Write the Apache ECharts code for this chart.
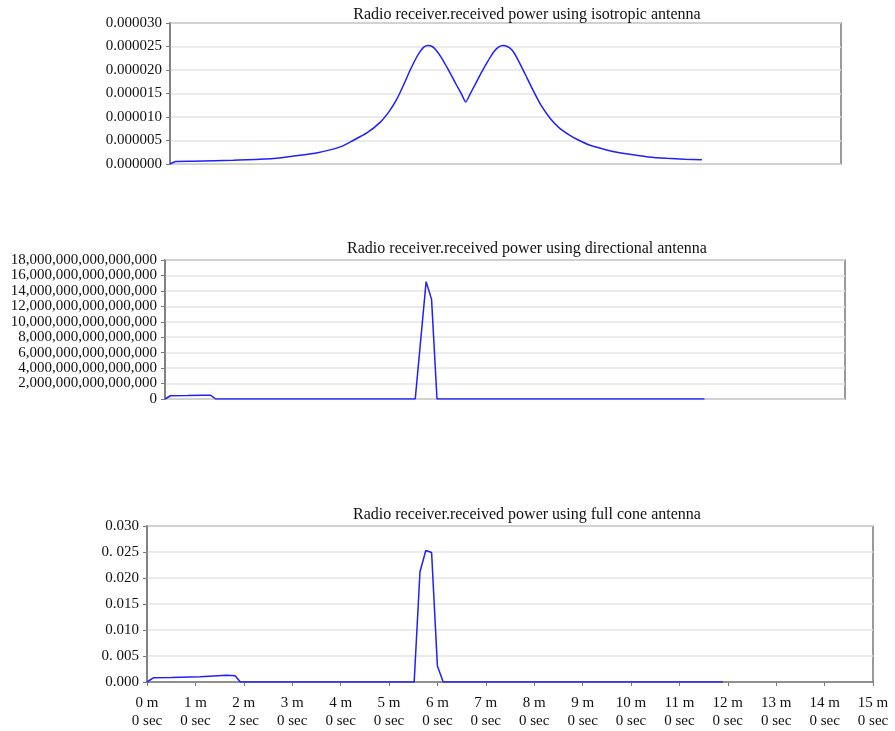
<!DOCTYPE html>
<html>
<head>
<meta charset="utf-8">
<script src="https://cdn.jsdelivr.net/npm/echarts@6/dist/echarts.min.js"></script>
<style>
html,body{margin:0;padding:0;background:#fff;}
#c{width:895px;height:731px;}
</style>
</head>
<body>
<div id="c"></div>
<script>
// ---- data (time in minutes) ----
const isoTimes = [0,0.13,0.5,1.0,1.41,2.0,2.5,2.91,3.3,3.58,3.85,4.09,4.4,4.69,4.9,5.07,5.22,5.37,5.5,5.59,5.68,5.77,5.86,5.95,6.07,6.19,6.3,6.41,6.52,6.61,6.71,6.82,6.93,7.04,7.15,7.25,7.35,7.44,7.54,7.65,7.75,7.93,8.12,8.3,8.5,8.7,8.94,9.15,9.39,9.76,10.05,10.36,10.7,11.1,11.5,11.89];
const isoValues = [0,0.55e-6,0.6e-6,0.7e-6,0.8e-6,1.0e-6,1.35e-6,1.85e-6,2.4e-6,3.0e-6,3.8e-6,5.0e-6,6.6e-6,8.8e-6,11.2e-6,13.8e-6,16.8e-6,20.0e-6,22.5e-6,23.9e-6,24.9e-6,25.2e-6,25.0e-6,24.2e-6,22.6e-6,20.6e-6,18.7e-6,16.7e-6,14.8e-6,13.2e-6,14.9e-6,16.9e-6,18.9e-6,20.8e-6,22.6e-6,24.0e-6,24.9e-6,25.2e-6,25.0e-6,24.2e-6,22.7e-6,19.3e-6,15.6e-6,12.4e-6,9.7e-6,7.7e-6,6.1e-6,5.0e-6,4.0e-6,3.0e-6,2.4e-6,1.95e-6,1.5e-6,1.2e-6,1.0e-6,0.9e-6];

const dirTimes = [0,0.12,0.5,0.85,1.0,1.12,5.52,5.76,5.88,6.0,11.9];
const dirValues = [0,0.42e18,0.45e18,0.5e18,0.5e18,0,0,15.2e18,12.9e18,0,0];

const coneTimes = [0,0.13,0.5,1.1,1.65,1.82,1.93,5.52,5.64,5.76,5.88,6.0,6.12,11.9];
const coneValues = [0,0.0008,0.00085,0.001,0.0013,0.0012,0,0,0.0212,0.0253,0.0249,0.0031,0,0];

const titles = [
  'Radio receiver.received power using isotropic antenna',
  'Radio receiver.received power using directional antenna',
  'Radio receiver.received power using full cone antenna'
];

const isoTicks = ['0.000000','0.000005','0.000010','0.000015','0.000020','0.000025','0.000030'];
const dirTicks = ['0','2,000,000,000,000,000','4,000,000,000,000,000','6,000,000,000,000,000','8,000,000,000,000,000','10,000,000,000,000,000','12,000,000,000,000,000','14,000,000,000,000,000','16,000,000,000,000,000','18,000,000,000,000,000'];
const coneTicks = ['0.000','0. 005','0.010','0.015','0.020','0. 025','0.030'];
const timeTicks = ['0 m\n0 sec','1 m\n0 sec','2 m\n2 sec','3 m\n0 sec','4 m\n0 sec','5 m\n0 sec','6 m\n0 sec','7 m\n0 sec','8 m\n0 sec','9 m\n0 sec','10 m\n0 sec','11 m\n0 sec','12 m\n0 sec','13 m\n0 sec','14 m\n0 sec','15 m\n0 sec'];

// ---- build ----
const FONT = 'Liberation Serif';
const pairs = (t, v) => t.map((x, i) => [x, v[i]]);
const yIntervals = [5e-6, 2e18, 0.005];
const yMax = [30e-6, 18e18, 0.030];
const yTicks = [isoTicks, dirTicks, coneTicks];
const grids = [
  {left:170, right:54, top:23, height:141},
  {left:165, right:50, top:260, height:139},
  {left:147, right:22, top:526, height:156}
];
const titleTops = [2, 236, 502];
const smoothing = [0.2, 0, 0];
const seriesData = [pairs(isoTimes, isoValues), pairs(dirTimes, dirValues), pairs(coneTimes, coneValues)];

const option = {
  animation: false,
  backgroundColor: '#fff',
  textStyle: {fontFamily: FONT},
  title: titles.map((t, i) => ({
    text: t, left: 522, top: titleTops[i], textAlign: 'center',
    textStyle: {fontFamily: FONT, fontSize: 16, fontWeight: 'normal', color: '#111'}
  })),
  grid: grids.map(g => Object.assign({show: true, borderColor: '#7a7a7a', borderWidth: 1.5, backgroundColor: '#fff'}, g)),
  xAxis: [0,1,2].map(i => ({
    type: 'value', gridIndex: i, min: 0, max: 15, interval: 1,
    axisLine: {show: i === 2, lineStyle: {color: '#7a7a7a', width: 1.5}},
    axisTick: {show: i === 2, length: 4, lineStyle: {color: '#7a7a7a'}},
    splitLine: {show: false},
    axisLabel: {
      show: i === 2, fontFamily: FONT, fontSize: 15, color: '#111', lineHeight: 18, margin: 12,
      formatter: v => timeTicks[Math.round(v)] || ''
    }
  })),
  yAxis: [0,1,2].map(i => ({
    type: 'value', gridIndex: i, min: 0, max: yMax[i], interval: yIntervals[i],
    axisLine: {show: true, lineStyle: {color: '#7a7a7a', width: 1.5}},
    axisTick: {show: true, length: 4, lineStyle: {color: '#7a7a7a'}},
    splitLine: {show: true, lineStyle: {color: '#e4e4e4', width: 1.5}},
    axisLabel: {
      fontFamily: FONT, fontSize: 15, color: '#111', margin: 8,
      formatter: v => yTicks[i][Math.round(v / yIntervals[i])] || ''
    }
  })),
  series: [0,1,2].map(i => ({
    type: 'line', xAxisIndex: i, yAxisIndex: i, data: seriesData[i],
    showSymbol: false, smooth: smoothing[i],
    lineStyle: {color: '#1f1fff', width: 1.5}
  }))
};

const chart = echarts.init(document.getElementById('c'));
chart.setOption(option);
</script>
</body>
</html>
